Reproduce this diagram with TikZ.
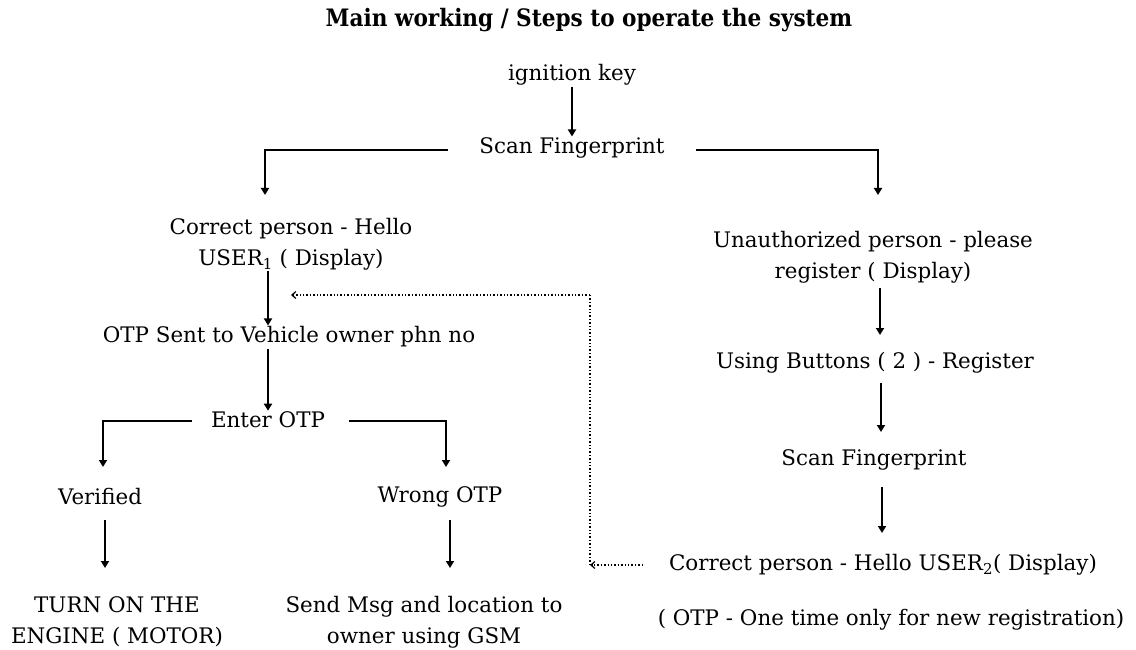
\documentclass[tikz,border=0pt]{standalone}
\usepackage{fontspec}
\setmainfont{DejaVu Serif}
\newfontfamily\titlefont{DejaVu Serif Condensed}
\usetikzlibrary{arrows.meta}
\tikzset{
  txt/.style={inner sep=1pt, align=center, font=\fontsize{21.4}{31}\selectfont},
  conn/.style={line width=1.8pt, -{Triangle[width=8pt,length=7pt]}},
  dot/.style={line width=1.4pt, dotted, -{Straight Barb[width=7pt,length=4pt,line width=1.2pt]}},
  dotl/.style={line width=1.4pt, dotted}
}
\begin{document}
\begin{tikzpicture}[x=1pt,y=-1pt]
\useasboundingbox[fill=white] (0,0) rectangle (1136,650);
\node[font=\titlefont\bfseries\fontsize{24}{28}\selectfont] (title) at (589,20) {Main working / Steps to operate the system};
\node[txt] (ign) at (572,75) {ignition key};
\node[txt] (scan) at (572,148) {Scan Fingerprint};
\node[txt] (corr) at (291,244) {Correct person - Hello\\USER\textsubscript{1} ( Display)};
\node[txt] (otp) at (289,337) {OTP Sent to Vehicle owner phn no};
\node[txt] (enter) at (268,420) {Enter OTP};
\node[txt] (ver) at (100,497) {Verified};
\node[txt] (wrong) at (440,497) {Wrong OTP};
\node[txt] (turn) at (117,622) {TURN ON THE\\ENGINE ( MOTOR)};
\node[txt] (send) at (424,622) {Send Msg and location to\\owner using GSM};
\node[txt] (unauth) at (873,257) {Unauthorized person - please\\register ( Display)};
\node[txt] (btn) at (875,363) {Using Buttons ( 2 ) - Register};
\node[txt] (scan2) at (874,460) {Scan Fingerprint};
\node[txt] (corr2) at (883,565) {Correct person - Hello USER\textsubscript{2}( Display)};
\node[txt] (note) at (891,620) {( OTP - One time only for new registration)};

\coordinate (sL) at (448,150);
\coordinate (sR) at (696,150);
\coordinate (eL) at (192,421);
\coordinate (eR) at (349,421);
\coordinate (d0) at (643,565);
\coordinate (dc) at (590,565);
\coordinate (dt) at (590,295);
\coordinate (de) at (291,295);

\draw[conn] (ign.south) -- (scan.north);
\draw[conn] (sL) -- (265,150) -- (265,195);
\draw[conn] (sR) -- (878,150) -- (878,195);
\draw[conn] (corr.south -| 268,0) -- (otp.north -| 268,0);
\draw[conn] (otp.south -| 268,0) -- (enter.north -| 268,0);
\draw[conn] (eL) -- (103,421) -- (103,467);
\draw[conn] (eR) -- (446,421) -- (446,467);
\draw[conn] (105,520) -- (105,568);
\draw[conn] (450,520) -- (450,568);
\draw[conn] (880,288) -- (880,335);
\draw[conn] (881,383) -- (881,432);
\draw[conn] (882,487) -- (882,533);
\draw[dot] (d0) -- (dc);
\draw[dotl] (dc) -- (dt);
\draw[dot] (dt) -- (de);
\end{tikzpicture}
\end{document}
